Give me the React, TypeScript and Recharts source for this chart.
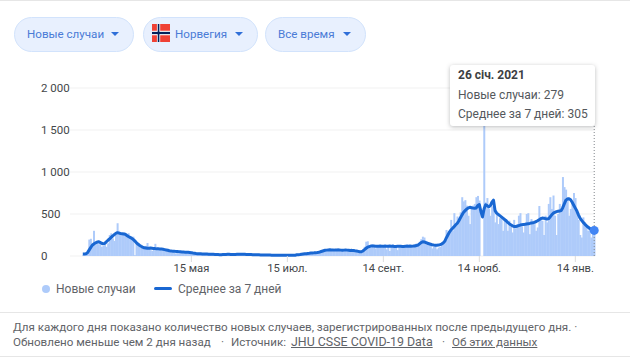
import {
  Bar,
  CartesianGrid,
  ComposedChart,
  Line,
  ReferenceLine,
  Tooltip,
  XAxis,
  YAxis,
} from 'recharts'

const FONT = 'Roboto, Arial, sans-serif'

// Daily new cases, one list per month (starts 7 March 2020).
const casesMar = [5, 10, 15, 30, 195, 205, 110, 300, 130, 170, 140, 150, 110, 120, 130, 110, 150, 250, 270, 210, 180, 250, 390, 300, 250]
const casesApr = [260, 280, 260, 240, 270, 220, 200, 230, 10, 170, 140, 120, 100, 90, 110, 120, 155, 90, 70, 60, 90, 145, 100, 75, 80, 70, 75, 70, 60, 65]
const casesMay = [55, 70, 60, 45, 30, 70, 60, 55, 45, 40, 50, 55, 45, 30, 25, 45, 35, 30, 25, 20, 30, 25, 20, 15, 25, 30, 20, 15, 18, 20, 15]
const casesJun = [15, 20, 15, 10, 25, 20, 30, 25, 15, 10, 20, 15, 25, 30, 20, 15, 25, 20, 15, 10, 20, 25, 15, 10, 12, 15, 18, 10, 12, 10]
const casesJul = [10, 15, 10, 8, 12, 15, 10, 5, 8, 12, 10, 8, 5, 8, 10, 7, 6, 12, 10, 8, 15, 20, 15, 18, 25, 30, 25, 35, 30, 40, 35]
const casesAug = [40, 35, 45, 50, 55, 70, 65, 80, 75, 70, 85, 70, 65, 75, 70, 80, 70, 60, 75, 80, 70, 65, 60, 75, 70, 60, 55, 65, 50, 45, 55]
const casesSep = [60, 110, 170, 175, 120, 100, 140, 130, 90, 125, 110, 130, 100, 120, 140, 80, 110, 60, 130, 140, 100, 120, 70, 130, 110, 125, 100, 120, 140, 110]
const casesOct = [120, 100, 130, 140, 150, 120, 170, 200, 230, 220, 180, 170, 130, 120, 90, 110, 130, 80, 100, 110, 140, 150, 180, 310, 260, 290, 430, 300, 510, 380, 470]
const casesNov = [450, 520, 700, 650, 665, 600, 480, 380, 560, 600, 620, 700, 715, 660, 0, 0, 1700, 640, 690, 560, 480, 590, 660, 400, 520, 380, 450, 470, 300, 420]
const casesDec = [440, 300, 420, 350, 280, 430, 330, 380, 480, 510, 350, 280, 390, 500, 510, 260, 440, 420, 380, 300, 340, 595, 460, 420, 250, 480, 400, 620, 700, 560, 720]
const casesJan = [480, 250, 500, 620, 560, 940, 820, 790, 700, 480, 560, 640, 750, 690, 520, 430, 250, 220, 460, 400, 360, 300, 320, 220, 340, 279]

// 7-day average, same months.
const avgMar = [25, 25, 28, 40, 70, 100, 128, 142, 155, 165, 170, 162, 152, 145, 150, 170, 188, 203, 222, 238, 255, 270, 278, 272, 268]
const avgApr = [265, 262, 258, 245, 232, 222, 212, 198, 180, 160, 142, 128, 116, 106, 98, 95, 92, 93, 95, 92, 88, 88, 85, 85, 84, 82, 80, 76, 72, 68]
const avgMay = [62, 60, 58, 57, 55, 54, 52, 50, 48, 47, 46, 46, 44, 42, 40, 36, 33, 30, 28, 27, 26, 25, 24, 24, 23, 22, 21, 20, 20, 19, 18]
const avgJun = [17, 16, 16, 17, 18, 19, 20, 20, 19, 18, 18, 19, 20, 21, 22, 22, 21, 20, 19, 18, 18, 17, 16, 15, 14, 14, 14, 13, 13, 12]
const avgJul = [12, 12, 11, 11, 10, 10, 10, 9, 9, 9, 9, 8, 8, 8, 8, 8, 8, 9, 9, 10, 14, 16, 18, 21, 24, 26, 28, 30, 32, 35, 37]
const avgAug = [38, 40, 42, 45, 50, 56, 62, 68, 70, 72, 74, 72, 72, 70, 71, 73, 72, 70, 68, 70, 72, 70, 68, 66, 67, 65, 62, 60, 55, 50, 50]
const avgSep = [60, 75, 92, 105, 112, 118, 120, 118, 116, 115, 116, 118, 117, 115, 116, 115, 117, 118, 116, 115, 114, 113, 115, 117, 116, 114, 113, 115, 116, 115]
const avgOct = [118, 117, 118, 120, 124, 130, 145, 160, 170, 168, 160, 152, 146, 140, 134, 130, 128, 128, 130, 135, 142, 155, 175, 215, 250, 285, 310, 330, 350, 372, 390]
const avgNov = [420, 455, 490, 520, 540, 560, 572, 580, 575, 570, 568, 572, 600, 612, 530, 465, 560, 610, 600, 585, 600, 640, 665, 540, 510, 495, 480, 465, 450, 435]
const avgDec = [420, 400, 385, 372, 360, 352, 350, 355, 362, 368, 372, 375, 378, 382, 385, 388, 392, 395, 400, 410, 420, 432, 445, 452, 450, 445, 440, 445, 465, 490, 510]
const avgJan = [520, 528, 532, 536, 540, 575, 620, 665, 678, 682, 670, 640, 605, 570, 535, 490, 450, 425, 400, 380, 362, 345, 330, 322, 330, 305]

const monthNames = ['мар.', 'апр.', 'мая', 'июн.', 'июл.', 'авг.', 'сент.', 'окт.', 'нояб.', 'дек.', 'янв.']
const firstDay = [7, 1, 1, 1, 1, 1, 1, 1, 1, 1, 1]
const casesByMonth = [casesMar, casesApr, casesMay, casesJun, casesJul, casesAug, casesSep, casesOct, casesNov, casesDec, casesJan]
const avgByMonth = [avgMar, avgApr, avgMay, avgJun, avgJul, avgAug, avgSep, avgOct, avgNov, avgDec, avgJan]

const xTicks = ['15 мая', '15 июл.', '14 сент.', '14 нояб.', '14 янв.']
const yTicks = [0, 500, 1000, 1500, 2000]

const rows = casesByMonth.flatMap((days, m) =>
  days.map((cases, i) => ({
    date: `${firstDay[m] + i} ${monthNames[m]}`,
    cases,
    avg: avgByMonth[m][i],
  })),
)
const lastDate = rows[rows.length - 1].date

function YTick({ y, payload }: { y?: number; payload?: { value: number } }) {
  const label = String(payload?.value ?? '').replace(/\B(?=(\d{3})+$)/g, ' ')
  return (
    <text x={41} y={y} dy={4} textAnchor="start" fontSize={11.5} fontFamily={FONT} fill="#44474a">
      {label}
    </text>
  )
}

function HoverTip() {
  return (
    <div
      style={{
        width: 145,
        height: 61,
        boxSizing: 'border-box',
        padding: '1px 8px',
        background: '#fff',
        borderRadius: 3,
        boxShadow: '0 1px 4px rgba(60,64,67,0.35)',
        fontFamily: FONT,
        fontSize: 12,
        lineHeight: '19.5px',
        color: '#54585c',
        whiteSpace: 'nowrap',
      }}
    >
      <div style={{ fontWeight: 700, color: '#3c4043' }}>26 січ. 2021</div>
      <div>Новые случаи: 279</div>
      <div>Среднее за 7 дней: 305</div>
    </div>
  )
}

function LegendRow() {
  return (
    <div style={{ position: 'absolute', left: 0, top: 282, width: 400, height: 16, fontFamily: FONT, fontSize: 12, color: '#5f6368' }}>
      <span style={{ position: 'absolute', left: 42, top: 3, width: 8, height: 8, borderRadius: 4, background: '#aecbfa' }} />
      <span style={{ position: 'absolute', left: 56, top: 0 }}>Новые случаи</span>
      <span style={{ position: 'absolute', left: 154, top: 5, width: 18, height: 3, borderRadius: 2, background: '#1967d2' }} />
      <span style={{ position: 'absolute', left: 178, top: 0 }}>Среднее за 7 дней</span>
    </div>
  )
}

function Chip({ left, width, label, flag }: { left: number; width: number; label: string; flag?: boolean }) {
  return (
    <div
      style={{
        position: 'absolute',
        left,
        top: 17,
        width,
        height: 35,
        boxSizing: 'border-box',
        background: '#e8f0fe',
        border: '1px solid #d2e3fc',
        borderRadius: 18,
        fontFamily: FONT,
        fontSize: 11.6,
        lineHeight: '33px',
        color: '#4a7bd6',
      }}
    >
      {flag && (
        <svg width={18} height={18} viewBox="0 0 22 16" preserveAspectRatio="none" style={{ position: 'absolute', left: 8, top: 6 }}>
          <rect width={22} height={16} fill="#ef4135" />
          <rect x={6} width={4} height={16} fill="#fff" />
          <rect y={6} width={22} height={4} fill="#fff" />
          <rect x={7} width={2} height={16} fill="#00205b" />
          <rect y={7} width={22} height={2} fill="#00205b" />
        </svg>
      )}
      <span style={{ position: 'absolute', left: flag ? 31 : 12, whiteSpace: 'nowrap' }}>{label}</span>
      <svg width={8} height={4} style={{ position: 'absolute', right: 14, top: 14 }}>
        <path d="M0 0 L8 0 L4 4 Z" fill="#2f6fd8" />
      </svg>
    </div>
  )
}

export default function App() {
  return (
    <div style={{ position: 'absolute', left: 0, top: 0, width: 630, height: 358, overflow: 'hidden', background: '#fff' }}>
      <div style={{ position: 'absolute', left: 0, top: 0, width: 630, height: 1, background: '#e6e6e6' }} />
      <Chip left={14} width={120} label="Новые случаи" />
      <Chip left={143} width={115} label="Норвегия" flag />
      <Chip left={265} width={101} label="Все время" />

      <div style={{ position: 'absolute', left: 0, top: 0 }}>
        <ComposedChart
          width={630}
          height={300}
          data={rows}
          margin={{ top: 88, right: 35, bottom: 14, left: 0 }}
          barCategoryGap={0}
        >
          <CartesianGrid horizontal vertical={false} stroke="#f1f1f1" />
          <XAxis
            dataKey="date"
            ticks={xTicks}
            interval={0}
            height={30}
            padding={{ left: 12, right: 0 }}
            axisLine={false}
            tickSize={6}
            tickLine={{ stroke: '#dcdcdc' }}
            tick={{ fontSize: 11.2, fontFamily: FONT, fill: '#44474a' }}
          />
          <YAxis
            domain={[0, 2000]}
            ticks={yTicks}
            width={70}
            axisLine={false}
            tickLine={false}
            tick={YTick}
          />
          <Tooltip
            defaultIndex={rows.length - 1}
            content={HoverTip}
            cursor={false}
            position={{ x: 450, y: 65 }}
            allowEscapeViewBox={{ x: true, y: true }}
            isAnimationActive={false}
          />
          <Bar dataKey="cases" fill="#aecbfa" isAnimationActive={false} />
          <ReferenceLine
            x={lastDate}
            shape={({ x1, y1, y2 }: { x1?: number; y1?: number; y2?: number }) => (
              <line x1={x1} x2={x1} y1={y1} y2={(y2 ?? 0) + 21} stroke="#80868b" strokeDasharray="1 2" />
            )}
          />
          <Line
            dataKey="avg"
            stroke="#1967d2"
            strokeWidth={3}
            dot={false}
            activeDot={{ r: 4.5, fill: '#4285f4', stroke: 'none' }}
            strokeLinejoin="round"
            isAnimationActive={false}
          />
        </ComposedChart>
      </div>

      <LegendRow />

      <div style={{ position: 'absolute', left: 0, top: 312, width: 630, height: 1, background: '#e6e6e6' }} />
      <div style={{ position: 'absolute', left: 0, top: 356, width: 630, height: 1, background: '#e6e6e6' }} />
      <div
        style={{
          position: 'absolute',
          left: 13,
          top: 320,
          width: 617,
          fontFamily: FONT,
          fontSize: 11.6,
          lineHeight: '14.5px',
          color: '#5f6368',
          whiteSpace: 'nowrap',
        }}
      >
        <div>Для каждого дня показано количество новых случаев, зарегистрированных после предыдущего дня. ·</div>
        <div style={{ position: 'relative', height: 15 }}>
          <span style={{ position: 'absolute', left: 0 }}>Обновлено меньше чем 2 дня назад</span>
          <span style={{ position: 'absolute', left: 208 }}>·</span>
          <span style={{ position: 'absolute', left: 218 }}>Источник:</span>
          <u style={{ position: 'absolute', left: 278, fontSize: 12.4 }}>JHU CSSE COVID-19 Data</u>
          <span style={{ position: 'absolute', left: 429 }}>·</span>
          <u style={{ position: 'absolute', left: 439 }}>Об этих данных</u>
        </div>
      </div>
    </div>
  )
}
